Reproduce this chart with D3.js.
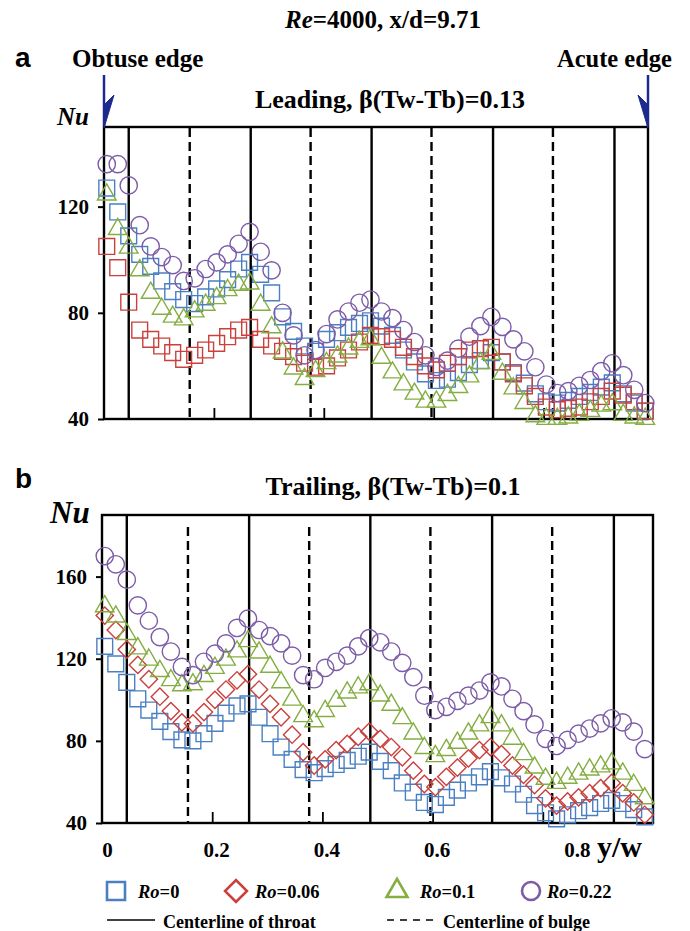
<!DOCTYPE html>
<html><head><meta charset="utf-8">
<script src="https://cdn.jsdelivr.net/npm/d3@7"></script>
<style>body{margin:0;background:#fff} svg{display:block}</style>
</head><body>
<svg id="chart" width="690" height="931"></svg>
<script>
// ---------- data ----------
const yw = [0.005,0.025,0.045,0.065,0.085,0.105,0.125,0.145,0.165,0.185,0.205,0.225,0.245,0.265,0.285,0.305,0.325,0.345,0.365,0.385,0.405,0.425,0.445,0.465,0.485,0.505,0.525,0.545,0.565,0.585,0.605,0.625,0.645,0.665,0.685,0.705,0.725,0.745,0.765,0.785,0.805,0.825,0.845,0.865,0.885,0.905,0.925,0.945,0.965,0.985];

const leadRo0   = [127,118,109,102,97.5,92,88,85,83.5,86,89,92.5,96.5,99,94.5,87.5,78.5,73,67.5,65.5,70,72.5,74.5,76,77,75,71.5,66,61.5,57,54.5,55,57.5,60.5,62,65,61.5,57.5,53.5,49.5,46.5,46,47,48.5,50,52,53.6,49.5,46,43];
const leadRo006 = [105,97,84,73.5,70,67.5,65,62.5,64,66,68.5,71,73.5,74.5,70,67.5,65.5,63.5,61,59.5,60,63,66,69,71.5,71,70,67,63.5,60,58.5,61,63.5,66,66.5,67,61.5,57,52.5,48.5,44.5,43.5,44,44.5,46.5,48.5,50.5,49,46.5,43];
const leadRo01  = [124.5,111.5,104.5,96,87.5,81.5,78.5,77.5,80.5,83,85.5,88.5,90.5,91,83,74.5,65,59,55,58,61,63.5,66.5,69,70,63,57.5,53,49.5,46.5,46.5,49,52,56,61,64.5,57,51.5,46,41,40,40,40.5,41.5,43,45,45.5,41.5,40.5,40];
const leadRo022 = [136,136,128,113,105,101,98,92,93,96.5,99,102,106,110.5,103,96,80,71.5,64,66,72,77.5,80.5,83.8,85,80.5,78,73.5,69,64,59.6,62,66.5,71,75,78.5,74.7,70,65.5,59.5,53,49.8,50.5,52.5,54.7,58,61,56.5,51,46];

const trailRo0   = [126,117.5,108.5,100.5,95,89.5,84.5,80.5,80,83.5,88.5,93.5,97,98,91.5,83.5,77,71,66,64.5,66.5,68.5,70.5,72.5,74.5,70,65.5,59.5,55,50,49,52.5,56,59.5,62.5,65,62,59,54,48.5,45,42,44,46,47.5,49.5,51,49.5,46.5,43];
const trailRo006 = [141,134,124.5,117,110,101.5,94.5,89,88.5,94,100,105,109.5,112.5,105,98,91.5,83,74.5,68,71,75.5,78.5,82,84.5,81,77,72,65.5,59,57.5,62.5,67,71.5,75.5,77,73.5,68,63.5,58.5,52,48.5,50.5,52.5,54.5,57,59.5,54.5,50,44];
const trailRo01  = [145.5,140.5,132,125,119.5,114,109.5,107,107.5,111.5,115.5,119.5,123.5,128.5,123,116,108.5,100,92,89.5,94.5,99.5,103.5,106,107.5,102,97.5,91,83.5,76.5,72.5,75.5,79,83.5,87.5,91.5,87.5,81,73.5,67,61.5,59.5,62,64,66,67.5,69,64,58.5,52];
const trailRo022 = [170,166,158.5,146,138.5,130.5,123.5,116,112,118.5,122.5,127.5,135,139.5,134,131,127.5,121.5,112,110,115.5,118.5,121.5,126,130,128,123.5,118,111,102,95,96.6,99.5,102,104.5,108.5,106.5,100.5,94.5,88,81,77.5,80.5,83.5,86,88.5,91,89,84.5,76];

const throatLines = [0.045,0.267,0.487,0.708,0.929];
const bulgeLines  = [0.156,0.376,0.596,0.817];
const yTicksLead  = [40,80,120];
const yTicksTrail = [40,80,120,160];
const xTicks      = [0,0.2,0.4,0.6,0.8];
const xMinorTicks = [0.2,0.4,0.6,0.8];
const roLabels    = ["0","0.06","0.1","0.22"];

// ---------- setup ----------
const svg = d3.select("#chart");
const serif = "'Liberation Serif','Times New Roman',Times,serif";
const sans = "'Liberation Sans',Arial,sans-serif";
const colors = ["#4a80c2","#c9403c","#84ae42","#7c5ca8"];
const navy = "#1b2a8c";

const shapes = {
  square:   {type: d3.symbolSquare,   size: 250, rot: 0},
  diamond:  {type: d3.symbolSquare,   size: 150, rot: 45},
  triangle: {type: d3.symbolTriangle, size: 150, rot: 0},
  circle:   {type: d3.symbolCircle,   size: 235, rot: 0}
};

function txt(g, x, y, size, anchor, parts, family, weight) {
  const t = g.append("text").attr("x", x).attr("y", y)
    .attr("font-family", family || serif).attr("font-weight", weight || "bold")
    .attr("font-size", size).attr("text-anchor", anchor || "start").attr("fill", "#000");
  parts.forEach(p => {
    const s = t.append("tspan").text(p[0]);
    if (p[1]) s.attr("font-style", "italic");
  });
  return t;
}

function drawPanel(cfg) {
  const x = d3.scaleLinear().domain([0, cfg.xMax]).range(cfg.xRange);
  const y = d3.scaleLinear().domain(cfg.yDomain).range(cfg.yRange);
  const g = svg.append("g");
  const [yb, yt] = cfg.yRange;

  // vertical centerlines
  g.selectAll(".thr").data(throatLines).join("line")
    .attr("x1", d => x(d)).attr("x2", d => x(d)).attr("y1", yt).attr("y2", yb)
    .attr("stroke", "#000").attr("stroke-width", 2.4);
  g.selectAll(".blg").data(bulgeLines).join("line")
    .attr("x1", d => x(d)).attr("x2", d => x(d)).attr("y1", yt + cfg.dashOffset).attr("y2", yb)
    .attr("stroke", "#000").attr("stroke-width", 2.4).attr("stroke-dasharray", "9,5");

  // frame
  g.append("rect").attr("x", x(0)).attr("y", yt).attr("width", x(cfg.xMax) - x(0)).attr("height", yb - yt)
    .attr("fill", "none").attr("stroke", "#000").attr("stroke-width", 2.4);

  // inner x ticks (+ labels for panel b)
  const xa = d3.axisBottom(x).tickValues(cfg.labels ? xTicks : xMinorTicks).tickSize(-11)
    .tickFormat(cfg.labels ? (d => d === 0 ? "0" : d3.format(".1f")(d)) : "");
  const gx = g.append("g").attr("transform", `translate(0,${yb})`).call(xa);
  gx.select(".domain").remove();
  gx.selectAll(".tick line").attr("stroke", "#000").attr("stroke-width", 1.8)
    .style("display", d => d === 0 ? "none" : null);
  gx.selectAll(".tick text").attr("font-family", serif).attr("font-weight", "bold")
    .attr("font-size", 21).attr("fill", "#000").attr("y", 34).attr("dy", 0)
    .attr("dx", d => d === 0.8 ? 34 : (d === 0 ? 5 : 4));

  // y axis
  const ya = d3.axisLeft(y).tickValues(cfg.yTicks).tickSize(6).tickPadding(9);
  const gy = g.append("g").attr("transform", `translate(${x(0)},0)`).call(ya);
  gy.select(".domain").remove();
  gy.selectAll(".tick line").attr("stroke", "#000").attr("stroke-width", 2);
  gy.selectAll(".tick text").attr("font-family", serif).attr("font-weight", "bold")
    .attr("font-size", 21).attr("fill", "#000");

  // series markers
  cfg.series.forEach((s, i) => {
    const sh = shapes[s.shape];
    const sym = d3.symbol().type(sh.type).size(sh.size);
    g.append("g").selectAll("path").data(yw.map((xv, k) => [xv, s.values[k]])).join("path")
      .attr("d", sym)
      .attr("transform", d => `translate(${x(d[0])},${y(d[1])}) rotate(${sh.rot})`)
      .attr("fill", "none").attr("stroke", s.color).attr("stroke-width", 1.4);
  });
  return {x, y, g};
}

// ---------- panel a ----------
const pa = drawPanel({
  xMax: 0.99, xRange: [104, 648], yDomain: [40, 150], yRange: [419, 127],
  yTicks: yTicksLead, labels: false, dashOffset: 1,
  series: [
    {values: leadRo0, shape: "square", color: colors[0]},
    {values: leadRo006, shape: "square", color: colors[1]},
    {values: leadRo01, shape: "triangle", color: colors[2]},
    {values: leadRo022, shape: "circle", color: colors[3]}
  ]
});

// ---------- panel b ----------
const pb = drawPanel({
  xMax: 1, xRange: [102, 653], yDomain: [40, 190], yRange: [823, 515],
  yTicks: yTicksTrail, labels: true, dashOffset: 12,
  series: [
    {values: trailRo0, shape: "square", color: colors[0]},
    {values: trailRo006, shape: "diamond", color: colors[1]},
    {values: trailRo01, shape: "triangle", color: colors[2]},
    {values: trailRo022, shape: "circle", color: colors[3]}
  ]
});

// ---------- texts ----------
txt(svg, 383, 28, 25, "middle", [["Re", true], ["=4000, x/d=9.71"]]);
txt(svg, 15, 67, 28, "start", [["a"]], sans);
txt(svg, 15, 488, 28, "start", [["b"]], sans);
txt(svg, 72, 67, 25, "start", [["Obtuse edge"]]);
txt(svg, 672, 67, 24.5, "end", [["Acute edge"]]);
txt(svg, 390, 108, 26, "middle", [["Leading, β(Tw-Tb)=0.13"]]);
txt(svg, 393, 495, 26, "middle", [["Trailing, β(Tw-Tb)=0.1"]]);
txt(svg, 57, 125, 25, "start", [["Nu", true]]);
txt(svg, 50, 523, 31, "start", [["Nu", true]]);
txt(svg, 597, 857, 30, "start", [["y/w"]]);

// edge arrows
[[pa.x(0), 1], [pa.x(0.99), -1]].forEach(([ax, dir]) => {
  svg.append("line").attr("x1", ax).attr("x2", ax).attr("y1", 75).attr("y2", 126)
    .attr("stroke", navy).attr("stroke-width", 2.5);
  svg.append("path")
    .attr("d", `M${ax},128 L${ax + dir * 10},95 L${ax + dir * 1},104 Z`)
    .attr("fill", navy).attr("stroke", navy).attr("stroke-width", 1);
});

// ---------- legend ----------
const legendShapes = ["square", "diamond", "triangle", "circle"];
const legendSizes = {square: 324, diamond: 240, triangle: 190, circle: 254};
const legendX = [116, 236, 397, 531];
const legendTextX = [138, 255, 420, 547];
legendShapes.forEach((s, i) => {
  const sym = d3.symbol().type(shapes[s].type).size(legendSizes[s]);
  svg.append("path").attr("d", sym)
    .attr("transform", `translate(${legendX[i]},891) rotate(${shapes[s].rot})`)
    .attr("fill", "none").attr("stroke", colors[i]).attr("stroke-width", 2.6);
  txt(svg, legendTextX[i], 898, 18.5, "start", [["Ro", true], ["=" + roLabels[i]]]);
});
svg.append("line").attr("x1", 107).attr("x2", 155).attr("y1", 920).attr("y2", 920)
  .attr("stroke", "#000").attr("stroke-width", 1.6);
txt(svg, 163, 928, 18, "start", [["Centerline of throat"]]);
svg.append("line").attr("x1", 387).attr("x2", 438).attr("y1", 920).attr("y2", 920)
  .attr("stroke", "#000").attr("stroke-width", 1.6).attr("stroke-dasharray", "7,6");
txt(svg, 443, 928, 18, "start", [["Centerline of bulge"]]);
</script>
</body></html>
